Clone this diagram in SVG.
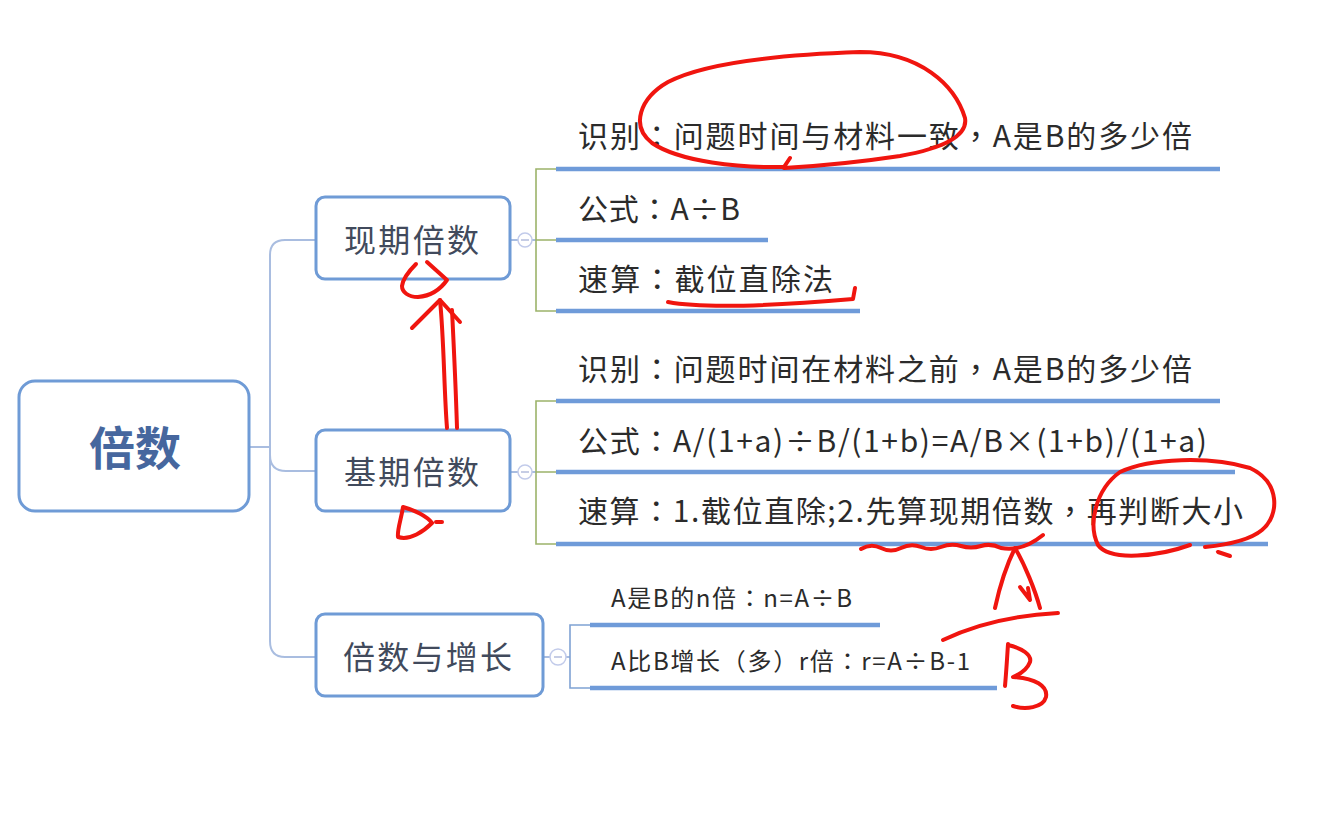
<svg xmlns="http://www.w3.org/2000/svg" width="1326" height="833" viewBox="0 0 1326 833">
  <style>
    .node { fill: #ffffff; stroke: #6f9bd6; stroke-width: 3; }
    .ntext { font-family: "Noto Sans CJK SC", "Noto Sans", sans-serif; font-size: 32px; fill: #414a5c; }
    .root { font-family: "Noto Sans CJK SC", "Noto Sans", sans-serif; font-size: 46px; font-weight: bold; fill: #46679e; text-anchor: middle; }
    .t { font-family: "Noto Sans CJK SC", "Noto Sans", sans-serif; font-size: 30px; fill: #2b2b2b; }
    .ts { font-family: "Noto Sans CJK SC", "Noto Sans", sans-serif; font-size: 24px; fill: #2b2b2b; }
    /* centred full-width punctuation */
    .p { font-family: "Noto Sans CJK TC", "Noto Sans CJK SC", sans-serif; }
    .trunk { fill: none; stroke: #a9bde0; stroke-width: 2; }
    .green { fill: none; stroke: #9cb36a; stroke-width: 1.6; }
    .blueb { fill: none; stroke: #7fa2d4; stroke-width: 1.6; }
    .uline { fill: none; stroke: #6f9bd9; stroke-width: 4.5; }
    .toggle { fill: #ffffff; stroke: #c2cbea; stroke-width: 1.5; }
    .minus { stroke: #b3bcdc; stroke-width: 1.5; }
    .ink { fill: none; stroke: #f0150f; stroke-width: 4; stroke-linecap: round; stroke-linejoin: round; }
  </style>

  <!-- connectors -->
  <g id="connectors">
    <path class="trunk" d="M 250 447 H 270"/>
    <path class="trunk" d="M 315 240 H 285 Q 270 240 270 255 V 641 Q 270 657 285 657 H 315"/>
    <path class="trunk" d="M 270 455 Q 270 471 286 471 H 315"/>

    <!-- branch 1 -->
    <path class="trunk" d="M 510 240 H 518 M 532 240 H 536"/>
    <circle class="toggle" cx="525" cy="240" r="7"/>
    <path class="minus" d="M 521 240 H 529"/>
    <path class="green" d="M 556 169 H 536 V 311 H 556 M 536 240 H 556"/>
    <path class="uline" d="M 556 169 H 1220 M 556 240 H 768 M 556 311 H 860"/>

    <!-- branch 2 -->
    <path class="trunk" d="M 510 472 H 518 M 532 472 H 536"/>
    <circle class="toggle" cx="525" cy="472" r="7"/>
    <path class="minus" d="M 521 472 H 529"/>
    <path class="green" d="M 556 401 H 536 V 544 H 556 M 536 472 H 556"/>
    <path class="uline" d="M 556 401 H 1220 M 556 472 H 1235 M 556 544 H 1268"/>

    <!-- branch 3 -->
    <path class="trunk" d="M 543 657 H 550 M 566 657 H 570"/>
    <circle class="toggle" cx="558" cy="657" r="8"/>
    <path class="minus" d="M 554 657 H 562"/>
    <path class="blueb" d="M 590 625 H 570 V 688 H 590"/>
    <path class="uline" d="M 590 625 H 880 M 590 688 H 997"/>
  </g>

  <!-- root -->
  <g id="root">
    <rect class="node" x="19" y="381" width="230" height="130" rx="16"/>
    <text class="root" x="135" y="465">倍数</text>
  </g>

  <g id="current-multiple">
    <rect class="node" x="316" y="197" width="194" height="82" rx="9"/>
    <text class="ntext" x="344" y="252" textLength="135">现期倍数</text>
  </g>

  <g id="base-multiple">
    <rect class="node" x="316" y="430" width="194" height="81" rx="9"/>
    <text class="ntext" x="344" y="484" textLength="135">基期倍数</text>
  </g>

  <g id="multiple-growth">
    <rect class="node" x="316" y="614" width="227" height="82" rx="9"/>
    <text class="ntext" x="343" y="669" textLength="169">倍数与增长</text>
  </g>

  <g id="current-items">
    <text class="t" x="578" y="147" textLength="614">识别<tspan class="p">：</tspan>问题时间与材料一致<tspan class="p">，</tspan>A是B的多少倍</text>
    <text class="t" x="578" y="220" textLength="162">公式<tspan class="p">：</tspan>A÷B</text>
    <text class="t" x="578" y="290" textLength="255">速算<tspan class="p">：</tspan>截位直除法</text>
  </g>

  <g id="base-items">
    <text class="t" x="578" y="380" textLength="614">识别<tspan class="p">：</tspan>问题时间在材料之前<tspan class="p">，</tspan>A是B的多少倍</text>
    <text class="t" x="578" y="452" textLength="629">公式<tspan class="p">：</tspan>A/(1+a)÷B/(1+b)=A/B×(1+b)/(1+a)</text>
    <text class="t" x="578" y="522" textLength="665">速算<tspan class="p">：</tspan>1.截位直除;2.先算现期倍数<tspan class="p">，</tspan>再判断大小</text>
  </g>

  <g id="growth-items">
    <text class="ts" x="611" y="607" textLength="241">A是B的n倍<tspan class="p">：</tspan>n=A÷B</text>
    <text class="ts" x="611" y="670" textLength="359">A比B增长<tspan class="p">（</tspan>多<tspan class="p">）</tspan>r倍<tspan class="p">：</tspan>r=A÷B-1</text>
  </g>

  <!-- red pen marks -->
  <g id="pen-marks">
    <path class="ink" d="M 790 158 L 784 167 C 740 168 680 162 652 143 C 630 126 640 98 668 82 C 710 60 800 54 860 52 C 920 52 955 85 965 118 C 968 135 945 148 900 156 C 860 162 820 166 784 168"/>
    <path class="ink" d="M 668 302 C 700 308 760 307 853 299 L 855 288"/>
    <!-- loop and arrow between the two period nodes -->
    <path class="ink" d="M 427 262 L 447 280 C 440 290 430 296 418 297 C 408 297 402 292 402 286 C 403 278 410 270 416 264"/>
    <path class="ink" d="M 412 328 L 440 300 L 460 322"/>
    <path class="ink" d="M 440 300 C 444 340 444 390 447 428 M 452 310 C 454 350 456 395 457 428"/>
    <path class="ink" d="M 403 507 C 401 520 397 530 398 537 C 410 541 424 531 432 523 C 427 516 414 510 403 507"/>
    <path class="ink" d="M 436 522 H 442"/>
    <path class="ink" d="M 861 549 Q 871 543 881 548 T 901 548 T 921 547 T 941 547 T 961 546 T 981 546 T 1001 548 Q 1022 552 1043 535"/>
    <path class="ink" d="M 1190 545 C 1160 556 1110 562 1098 545 C 1088 525 1095 490 1120 472 C 1150 458 1210 456 1250 468 C 1280 482 1280 515 1262 530 C 1250 540 1225 545 1205 547"/>
    <path class="ink" d="M 1218 552 L 1230 556"/>
    <!-- A over B -->
    <path class="ink" d="M 995 608 C 1000 585 1008 562 1015 548 C 1025 565 1035 590 1040 608"/>
    <path class="ink" d="M 1020 587 L 1030 600 L 1028 588"/>
    <path class="ink" d="M 943 640 C 980 622 1020 615 1058 613"/>
    <path class="ink" d="M 1008 644 C 1007 660 1006 675 1005 686"/>
    <path class="ink" d="M 1008 645 C 1022 648 1032 655 1030 662 C 1027 670 1018 675 1013 677 C 1035 678 1048 686 1046 697 C 1043 708 1025 710 1013 706"/>
  </g>
</svg>
